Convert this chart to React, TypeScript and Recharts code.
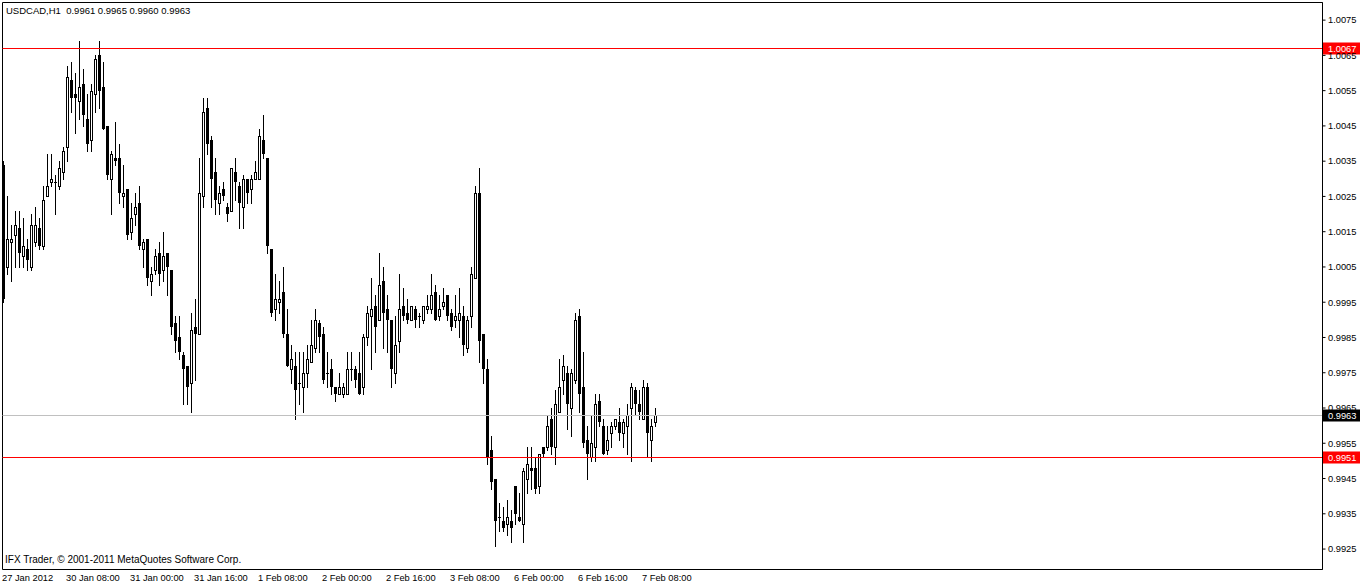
import React from 'react';
import {
  ComposedChart,
  Bar,
  XAxis,
  YAxis,
  ReferenceLine,
  ReferenceArea,
} from 'recharts';

// USDCAD H1 bars, oldest first (27 Jan 2012 16:00 -> 7 Feb 2012 11:00)
const opens = [
  1.0034, 1.0005, 1.0012, 1.0014, 1.0016, 1.0008, 1.0010, 1.0005, 1.0012, 1.0016,
  1.0011, 1.0025, 1.0029, 1.0029, 1.0028, 1.0032, 1.0039, 1.0058, 1.0054, 1.0052,
  1.0057, 1.0047, 1.0041, 1.0054, 1.0065, 1.0056, 1.0045, 1.0030, 1.0036, 1.0036,
  1.0025, 1.0027, 1.0015, 1.0020, 1.0023, 1.0010, 1.0013, 1.0001, 1.0004, 1.0009,
  1.0004, 1.0009, 1.0004, 0.9989, 0.9985, 0.9980, 0.9977, 0.9972, 0.9988, 0.9986,
  1.0025, 1.0050, 1.0041, 1.0032, 1.0023, 1.0027, 1.0022, 1.0021, 1.0032, 1.0028,
  1.0022, 1.0030, 1.0027, 1.0030, 1.0030, 1.0041, 1.0036, 1.0010, 0.9993, 0.9995,
  0.9998, 0.9986, 0.9976, 0.9977, 0.9972, 0.9971, 0.9975, 0.9978, 0.9982, 0.9989,
  0.9986, 0.9975, 0.9976, 0.9971, 0.9969, 0.9969, 0.9969, 0.9976, 0.9976, 0.9975,
  0.9971, 0.9985, 0.9991, 0.9994, 0.9990, 1.0001, 0.9993, 0.9990, 0.9975, 0.9984,
  0.9994, 0.9992, 0.9990, 0.9993, 0.9991, 0.9990, 0.9993, 0.9993, 0.9998, 0.9991,
  0.9994, 0.9997, 0.9992, 0.9990, 0.9990, 0.9991, 0.9982, 0.9991, 1.0002, 1.0026,
  0.9986, 0.9976, 0.9953, 0.9945, 0.9934, 0.9933, 0.9932, 0.9933, 0.9943, 0.9934,
  0.9932, 0.9945, 0.9948, 0.9948, 0.9943, 0.9954, 0.9954, 0.9962, 0.9954, 0.9964,
  0.9973, 0.9975, 0.9965, 0.9973, 0.9991, 0.9971, 0.9956, 0.9951, 0.9954, 0.9967,
  0.9960, 0.9953, 0.9958, 0.9960, 0.9961, 0.9958, 0.9960, 0.9965, 0.9970, 0.9966,
  0.9962, 0.9971, 0.9956, 0.9961,
];
const highs = [
  1.0035, 1.0025, 1.0017, 1.0021, 1.0021, 1.0019, 1.0013, 1.0020, 1.0022, 1.0019,
  1.0028, 1.0037, 1.0037, 1.0031, 1.0035, 1.0039, 1.0062, 1.0063, 1.0060, 1.0069,
  1.0061, 1.0054, 1.0057, 1.0065, 1.0069, 1.0063, 1.0045, 1.0038, 1.0046, 1.0040,
  1.0034, 1.0027, 1.0023, 1.0026, 1.0028, 1.0013, 1.0013, 1.0005, 1.0010, 1.0012,
  1.0015, 1.0009, 1.0004, 0.9991, 0.9991, 0.9981, 0.9977, 0.9992, 0.9996, 1.0036,
  1.0053, 1.0053, 1.0042, 1.0036, 1.0028, 1.0029, 1.0023, 1.0033, 1.0036, 1.0029,
  1.0031, 1.0030, 1.0031, 1.0035, 1.0044, 1.0048, 1.0036, 1.0010, 1.0003, 1.0001,
  1.0005, 0.9993, 0.9983, 0.9981, 0.9981, 0.9981, 0.9983, 0.9990, 0.9993, 0.9990,
  0.9988, 0.9981, 0.9979, 0.9971, 0.9975, 0.9972, 0.9981, 0.9981, 0.9977, 0.9981,
  0.9986, 0.9994, 1.0002, 0.9997, 1.0009, 1.0005, 0.9997, 0.9990, 0.9991, 1.0003,
  0.9999, 0.9996, 0.9994, 0.9994, 0.9992, 0.9994, 0.9997, 1.0003, 1.0000, 0.9997,
  0.9999, 0.9997, 0.9993, 0.9997, 0.9999, 0.9994, 0.9991, 1.0005, 1.0028, 1.0033,
  0.9986, 0.9979, 0.9957, 0.9945, 0.9938, 0.9937, 0.9939, 0.9936, 0.9943, 0.9941,
  0.9948, 0.9954, 0.9954, 0.9951, 0.9952, 0.9954, 0.9963, 0.9965, 0.9970, 0.9979,
  0.9980, 0.9977, 0.9976, 0.9992, 0.9993, 0.9981, 0.9960, 0.9963, 0.9969, 0.9969,
  0.9962, 0.9960, 0.9961, 0.9962, 0.9965, 0.9962, 0.9966, 0.9972, 0.9971, 0.9970,
  0.9973, 0.9972, 0.9962, 0.9965,
];
const lows = [
  0.9995, 1.0003, 1.0001, 1.0005, 1.0005, 1.0005, 1.0004, 1.0004, 1.0011, 1.0010,
  1.0010, 1.0025, 1.0028, 1.0020, 1.0027, 1.0030, 1.0035, 1.0049, 1.0043, 1.0047,
  1.0045, 1.0038, 1.0038, 1.0049, 1.0050, 1.0044, 1.0030, 1.0020, 1.0034, 1.0023,
  1.0022, 1.0013, 1.0013, 1.0017, 1.0010, 1.0005, 1.0000, 0.9997, 1.0003, 1.0000,
  1.0001, 0.9997, 0.9986, 0.9981, 0.9979, 0.9966, 0.9966, 0.9964, 0.9973, 0.9986,
  1.0022, 1.0037, 1.0022, 1.0020, 1.0020, 1.0024, 1.0018, 1.0021, 1.0024, 1.0016,
  1.0016, 1.0023, 1.0023, 1.0030, 1.0030, 1.0036, 1.0009, 0.9991, 0.9990, 0.9992,
  0.9985, 0.9977, 0.9972, 0.9962, 0.9966, 0.9964, 0.9971, 0.9978, 0.9981, 0.9981,
  0.9972, 0.9971, 0.9969, 0.9967, 0.9969, 0.9968, 0.9969, 0.9973, 0.9971, 0.9969,
  0.9969, 0.9983, 0.9976, 0.9981, 0.9990, 0.9982, 0.9981, 0.9971, 0.9972, 0.9981,
  0.9990, 0.9989, 0.9990, 0.9988, 0.9988, 0.9989, 0.9992, 0.9992, 0.9990, 0.9990,
  0.9993, 0.9990, 0.9987, 0.9988, 0.9985, 0.9980, 0.9981, 0.9988, 1.0002, 0.9978,
  0.9972, 0.9949, 0.9942, 0.9926, 0.9930, 0.9930, 0.9929, 0.9927, 0.9932, 0.9933,
  0.9927, 0.9941, 0.9942, 0.9941, 0.9941, 0.9951, 0.9953, 0.9952, 0.9949, 0.9964,
  0.9969, 0.9959, 0.9957, 0.9972, 0.9964, 0.9954, 0.9945, 0.9950, 0.9950, 0.9960,
  0.9952, 0.9952, 0.9954, 0.9959, 0.9956, 0.9954, 0.9952, 0.9950, 0.9963, 0.9962,
  0.9962, 0.9951, 0.9950, 0.9960,
];
const closes = [
  0.9996, 1.0013, 1.0013, 1.0017, 1.0009, 1.0011, 1.0007, 1.0017, 1.0017, 1.0011,
  1.0024, 1.0028, 1.0030, 1.0029, 1.0033, 1.0038, 1.0059, 1.0053, 1.0053, 1.0056,
  1.0048, 1.0040, 1.0055, 1.0064, 1.0055, 1.0044, 1.0031, 1.0037, 1.0035, 1.0026,
  1.0026, 1.0014, 1.0019, 1.0022, 1.0011, 1.0012, 1.0002, 1.0003, 1.0008, 1.0003,
  1.0008, 1.0005, 0.9988, 0.9984, 0.9981, 0.9976, 0.9971, 0.9987, 0.9986, 1.0026,
  1.0049, 1.0040, 1.0030, 1.0024, 1.0026, 1.0025, 1.0020, 1.0033, 1.0029, 1.0023,
  1.0030, 1.0026, 1.0030, 1.0032, 1.0042, 1.0037, 1.0011, 0.9992, 0.9996, 0.9996,
  0.9986, 0.9977, 0.9979, 0.9970, 0.9972, 0.9975, 0.9979, 0.9983, 0.9990, 0.9985,
  0.9973, 0.9975, 0.9971, 0.9969, 0.9971, 0.9971, 0.9976, 0.9976, 0.9973, 0.9969,
  0.9985, 0.9992, 0.9993, 0.9988, 1.0000, 0.9992, 0.9990, 0.9976, 0.9983, 0.9993,
  0.9991, 0.9990, 0.9994, 0.9990, 0.9991, 0.9994, 0.9994, 0.9997, 0.9990, 0.9993,
  0.9995, 0.9991, 0.9988, 0.9991, 0.9992, 0.9983, 0.9990, 1.0003, 1.0026, 0.9984,
  0.9976, 0.9951, 0.9944, 0.9933, 0.9934, 0.9931, 0.9934, 0.9931, 0.9935, 0.9933,
  0.9947, 0.9949, 0.9947, 0.9942, 0.9952, 0.9952, 0.9960, 0.9954, 0.9966, 0.9971,
  0.9977, 0.9966, 0.9975, 0.9990, 0.9969, 0.9955, 0.9952, 0.9955, 0.9966, 0.9961,
  0.9952, 0.9956, 0.9960, 0.9962, 0.9958, 0.9961, 0.9963, 0.9971, 0.9966, 0.9964,
  0.9971, 0.9958, 0.9960, 0.9963,
];

const timeTicks = [1, 17, 33, 49, 65, 81, 97, 113, 129, 145, 161];
const timeLabels = [
  '27 Jan 2012', '30 Jan 08:00', '31 Jan 00:00', '31 Jan 16:00', '1 Feb 08:00',
  '2 Feb 00:00', '2 Feb 16:00', '3 Feb 08:00', '6 Feb 00:00', '6 Feb 16:00', '7 Feb 08:00',
];
const priceTicks = [
  1.0075, 1.0065, 1.0055, 1.0045, 1.0035, 1.0025, 1.0015, 1.0005,
  0.9995, 0.9985, 0.9975, 0.9965, 0.9955, 0.9945, 0.9935, 0.9925,
];
const resistanceLevel = 1.0067;
const supportLevel = 0.9951;
const bidLevel = 0.9963;
const title = 'USDCAD,H1  0.9961 0.9965 0.9960 0.9963';
const watermark = 'IFX Trader, \u00A9 2001-2011 MetaQuotes Software Corp.';

const PRICE_TOP = 1.008;
const PRICE_BOTTOM = 0.99192;
const X_MIN = 0.75;
const X_MAX = 330.75;
const FONT = "'Liberation Sans', Arial, sans-serif";

const data = opens.map((o, i) => ({
  i: i + 1,
  open: o,
  high: highs[i],
  low: lows[i],
  close: closes[i],
  range: [lows[i], highs[i]],
}));

const Candle = (props: any) => {
  const { x, y, width, height, payload } = props;
  if (x == null || !payload) return null;
  const { open, close, high, low } = payload;
  const span = high - low;
  const k = span > 0 ? height / span : 0;
  const py = (p: number) => Math.round(y + (high - p) * k);
  const cx = Math.floor(x + width / 2);
  const yH = py(high);
  const yL = py(low);
  const yO = py(open);
  const yC = py(close);
  const top = Math.min(yO, yC);
  const bot = Math.max(yO, yC);
  return (
    <g>
      <line x1={cx + 0.5} x2={cx + 0.5} y1={yH} y2={yL + 1} stroke="#000" strokeWidth={1} />
      {close > open ? (
        <rect x={cx - 0.5} y={top + 0.5} width={2} height={Math.max(bot - top, 0)} fill="#fff" stroke="#000" strokeWidth={1} />
      ) : (
        <rect x={cx - 1} y={top} width={3} height={Math.max(bot - top, 1)} fill="#000" />
      )}
    </g>
  );
};

const TimeTick = ({ x, y, payload }: any) => {
  const idx = timeTicks.indexOf(payload.value);
  return (
    <text x={x - 1.5} y={y + 11} fontSize={9.3} fontFamily={FONT} fill="#000" textAnchor="start">
      {idx >= 0 ? timeLabels[idx] : ''}
    </text>
  );
};

const PriceTick = ({ x, y, payload }: any) => (
  <text x={x} y={y + 3.3} fontSize={9.3} fontFamily={FONT} fill="#000" textAnchor="start">
    {Number(payload.value).toFixed(4)}
  </text>
);

const crispLine = (color: string) => (p: any) => {
  const yy = Math.floor(p.y1 ?? p.y) + 0.5;
  return <line x1={p.x1} x2={p.x2} y1={yy} y2={yy} stroke={color} strokeWidth={1} />;
};

const priceBox = (value: number, bg: string) => (props: any) => {
  const vb = props.viewBox || {};
  const yy = Math.floor(vb.y ?? 0) + 0.5;
  const left = 1323;
  return (
    <g>
      <rect x={left} y={yy - 6} width={37} height={12} fill={bg} />
      <text x={left + 5} y={yy + 3.3} fontSize={9.3} fontFamily={FONT} fill="#fff">
        {value.toFixed(4)}
      </text>
    </g>
  );
};

export default function App() {
  return (
    <div style={{ position: 'absolute', left: 0, top: 0, width: 1360, height: 586, background: '#fff' }}>
      <ComposedChart
        width={1360}
        height={586}
        data={data}
        margin={{ top: 2.5, right: 0, bottom: 0, left: 2.5 }}
      >
        <XAxis
          dataKey="i"
          type="number"
          domain={[X_MIN, X_MAX]}
          allowDataOverflow
          ticks={timeTicks}
          interval={0}
          height={16.5}
          axisLine={false}
          tickLine={false}
          tickSize={0}
          tickMargin={0}
          tick={<TimeTick />}
        />
        <YAxis
          orientation="right"
          type="number"
          domain={[PRICE_BOTTOM, PRICE_TOP]}
          allowDataOverflow
          ticks={priceTicks}
          interval={0}
          width={37.5}
          axisLine={{ stroke: '#000' }}
          tickLine={{ stroke: '#000' }}
          tickSize={3}
          tickMargin={2.5}
          tick={<PriceTick />}
        />
        <ReferenceArea
          x1={X_MIN}
          x2={X_MAX}
          y1={PRICE_BOTTOM}
          y2={PRICE_TOP}
          fill="none"
          fillOpacity={0}
          stroke="#000"
          strokeOpacity={1}
        />
        <ReferenceLine y={bidLevel} stroke="#C0C0C0" shape={crispLine('#C0C0C0')} label={{ content: priceBox(bidLevel, '#000') }} />
        <ReferenceLine y={resistanceLevel} stroke="#FF0000" shape={crispLine('#FF0000')} label={{ content: priceBox(resistanceLevel, '#FF0000') }} />
        <ReferenceLine y={supportLevel} stroke="#FF0000" shape={crispLine('#FF0000')} label={{ content: priceBox(supportLevel, '#FF0000') }} />
        <Bar dataKey="range" barSize={3} shape={Candle} isAnimationActive={false} />
      </ComposedChart>
      <div style={{ position: 'absolute', left: 6, top: 5, fontSize: 9.5, lineHeight: '12px', fontFamily: FONT, color: '#000', whiteSpace: 'pre' }}>
        {title}
      </div>
      <div style={{ position: 'absolute', left: 5, top: 554, fontSize: 10, lineHeight: '12px', fontFamily: FONT, color: '#000', whiteSpace: 'pre' }}>
        {watermark}
      </div>
    </div>
  );
}
